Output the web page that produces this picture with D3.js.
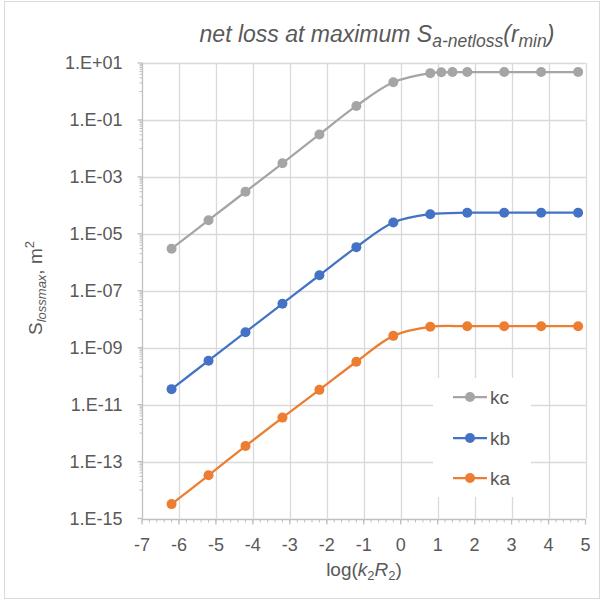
<!DOCTYPE html>
<html>
<head>
<meta charset="utf-8">
<script src="https://cdn.jsdelivr.net/npm/d3@7"></script>
<style>
  html, body { margin: 0; padding: 0; background: #fff; }
  svg { display: block; font-family: "Liberation Sans", Arial, sans-serif; }
</style>
</head>
<body>
<svg id="chart" width="603" height="603"></svg>
<script>
// log(k2R2) positions of each series
const xKc = [-6.2, -5.2, -4.2, -3.2, -2.2, -1.2, -0.2, 0.8, 1.1, 1.4, 1.8, 2.8, 3.8, 4.8];
const xKb = [-6.2, -5.2, -4.2, -3.2, -2.2, -1.2, -0.2, 0.8, 1.8, 2.8, 3.8, 4.8];
const xKa = [-6.2, -5.2, -4.2, -3.2, -2.2, -1.2, -0.2, 0.8, 1.8, 2.8, 3.8, 4.8];

// S_lossmax values, m^2
const kc = [3.0e-6, 3.0e-5, 3.0e-4, 3.0e-3, 3.1e-2, 0.31, 2.1, 4.4, 4.7, 4.8, 4.8, 4.8, 4.8, 4.8];
const kb = [3.5e-11, 3.5e-10, 3.5e-9, 3.5e-8, 3.5e-7, 3.4e-6, 2.5e-5, 4.9e-5, 5.5e-5, 5.5e-5, 5.5e-5, 5.5e-5];
const ka = [3.2e-15, 3.3e-14, 3.5e-13, 3.5e-12, 3.3e-11, 3.2e-10, 2.6e-9, 5.4e-9, 5.7e-9, 5.7e-9, 5.7e-9, 5.7e-9];

const seriesNames = ["kc", "kb", "ka"];
const seriesColors = ["#A5A5A5", "#4472C4", "#ED7D31"];

// axis ticks
const xTicks = [-7, -6, -5, -4, -3, -2, -1, 0, 1, 2, 3, 4, 5];
const xTickLabels = ["-7", "-6", "-5", "-4", "-3", "-2", "-1", "0", "1", "2", "3", "4", "5"];
const yTicks = [1e1, 1e-1, 1e-3, 1e-5, 1e-7, 1e-9, 1e-11, 1e-13, 1e-15];
const yTickLabels = ["1.E+01", "1.E-01", "1.E-03", "1.E-05", "1.E-07", "1.E-09", "1.E-11", "1.E-13", "1.E-15"];

const svg = d3.select("#chart");
const textColor = "#595959";
const gridColor = "#D9D9D9";
const axisColor = "#BFBFBF";

// chart frame
svg.append("rect")
  .attr("x", 4.5).attr("y", 1.5).attr("width", 595).attr("height", 597)
  .attr("fill", "#fff").attr("stroke", "#D9D9D9").attr("stroke-width", 1);

const x = d3.scaleLinear().domain([-7, 5]).range([142, 585.5]);
const y = d3.scaleLog().domain([1e-15, 1e1]).range([518.5, 63]);

// gridlines
const grid = svg.append("g");
grid.selectAll("line.h").data(yTicks.slice(0, -1)).join("line")
  .attr("x1", x(-7)).attr("x2", x(5))
  .attr("y1", d => Math.round(y(d)) + 0.5).attr("y2", d => Math.round(y(d)) + 0.5)
  .attr("stroke", gridColor).attr("stroke-width", 1.3);
grid.selectAll("line.v").data(xTicks.slice(1)).join("line")
  .attr("x1", d => Math.round(x(d)) + 0.5).attr("x2", d => Math.round(x(d)) + 0.5)
  .attr("y1", y(1e1)).attr("y2", y(1e-15))
  .attr("stroke", gridColor).attr("stroke-width", 1.3);

// x axis with 0.2 minor ticks
const xMinor = d3.range(-7, 5.0001, 0.2).map(v => Math.round(v * 10) / 10);
const xAxisG = svg.append("g").attr("transform", `translate(0,${Math.round(y(1e-15)) + 0.5})`);
xAxisG.append("line").attr("x1", x(-7)).attr("x2", x(5)).attr("stroke", axisColor).attr("stroke-width", 1.3);
xAxisG.selectAll("line.minor").data(xMinor).join("line")
  .attr("x1", d => x(d)).attr("x2", d => x(d)).attr("y1", 0).attr("y2", 3)
  .attr("stroke", axisColor).attr("stroke-width", 1);
xAxisG.selectAll("line.major").data(xTicks).join("line")
  .attr("x1", d => x(d)).attr("x2", d => x(d)).attr("y1", 0).attr("y2", 5)
  .attr("stroke", axisColor).attr("stroke-width", 1.3);
xAxisG.selectAll("text").data(xTicks).join("text")
  .attr("x", d => x(d)).attr("y", 31)
  .attr("text-anchor", "middle").attr("fill", textColor).attr("font-size", 18)
  .text((d, i) => xTickLabels[i]);

// y axis with logarithmic minor ticks
const yMinor = [];
for (let e = 0; e >= -14; e -= 2) for (let k = 1; k <= 9; k++) yMinor.push(k * Math.pow(10, e));
const yAxisG = svg.append("g").attr("transform", `translate(${Math.round(x(-7)) + 0.5},0)`);
yAxisG.append("line").attr("y1", y(1e1)).attr("y2", y(1e-15)).attr("stroke", axisColor).attr("stroke-width", 1.3);
yAxisG.selectAll("line.minor").data(yMinor).join("line")
  .attr("x1", -3).attr("x2", 0).attr("y1", d => y(d)).attr("y2", d => y(d))
  .attr("stroke", axisColor).attr("stroke-width", 1);
yAxisG.selectAll("line.major").data(yTicks).join("line")
  .attr("x1", -5).attr("x2", 0).attr("y1", d => y(d)).attr("y2", d => y(d))
  .attr("stroke", axisColor).attr("stroke-width", 1.3);
yAxisG.selectAll("text").data(yTicks).join("text")
  .attr("x", -20).attr("y", d => y(d)).attr("dy", "0.35em")
  .attr("text-anchor", "end").attr("fill", textColor).attr("font-size", 18)
  .text((d, i) => yTickLabels[i]);

// series
const series = [
  { name: seriesNames[0], xs: xKc, ys: kc, color: seriesColors[0] },
  { name: seriesNames[1], xs: xKb, ys: kb, color: seriesColors[1] },
  { name: seriesNames[2], xs: xKa, ys: ka, color: seriesColors[2] }
];
const line = d3.line().x(d => x(d[0])).y(d => y(d[1])).curve(d3.curveCatmullRom.alpha(0.5));
series.forEach(s => {
  const pts = s.xs.map((v, i) => [v, s.ys[i]]);
  const g = svg.append("g");
  g.append("path").attr("d", line(pts)).attr("fill", "none")
    .attr("stroke", s.color).attr("stroke-width", 2.25);
  g.selectAll("circle").data(pts).join("circle")
    .attr("cx", d => x(d[0])).attr("cy", d => y(d[1])).attr("r", 5)
    .attr("fill", s.color);
});

// legend
const legend = svg.append("g");
legend.append("rect").attr("x", 433).attr("y", 378).attr("width", 98).attr("height", 119).attr("fill", "#fff");
const legendY = [397, 438, 478];
series.forEach((s, i) => {
  const ly = legendY[i];
  legend.append("line").attr("x1", 453).attr("x2", 487).attr("y1", ly).attr("y2", ly)
    .attr("stroke", s.color).attr("stroke-width", 2.25);
  legend.append("circle").attr("cx", 470).attr("cy", ly).attr("r", 5).attr("fill", s.color);
  legend.append("text").attr("x", 490).attr("y", ly).attr("dy", "0.35em")
    .attr("fill", textColor).attr("font-size", 19).text(s.name);
});

// title
const title = svg.append("text").attr("x", 377).attr("y", 42)
  .attr("text-anchor", "middle").attr("fill", textColor)
  .attr("font-size", 23).attr("font-style", "italic");
title.append("tspan").text("net loss at maximum S");
title.append("tspan").attr("font-size", 17.5).attr("dy", 5).text("a-netloss");
title.append("tspan").attr("dy", -5).text("(r");
title.append("tspan").attr("font-size", 17.5).attr("dy", 5).text("min");
title.append("tspan").attr("dy", -5).text(")");

// x axis title
const xTitle = svg.append("text").attr("x", 364).attr("y", 576)
  .attr("text-anchor", "middle").attr("fill", textColor).attr("font-size", 19);
xTitle.append("tspan").text("log(");
xTitle.append("tspan").attr("font-style", "italic").text("k");
xTitle.append("tspan").attr("font-size", 13).attr("dy", 4).text("2");
xTitle.append("tspan").attr("dy", -4).attr("font-style", "italic").text("R");
xTitle.append("tspan").attr("font-size", 13).attr("dy", 4).text("2");
xTitle.append("tspan").attr("dy", -4).text(")");

// y axis title
const yTitle = svg.append("text").attr("transform", "translate(42,288) rotate(-90)")
  .attr("text-anchor", "middle").attr("fill", textColor).attr("font-size", 19);
yTitle.append("tspan").text("S");
yTitle.append("tspan").attr("font-size", 13).attr("font-style", "italic").attr("dy", 4).text("lossmax");
yTitle.append("tspan").attr("dy", -4).text(",  m");
yTitle.append("tspan").attr("font-size", 13).attr("dy", -8).text("2");
</script>
</body>
</html>
